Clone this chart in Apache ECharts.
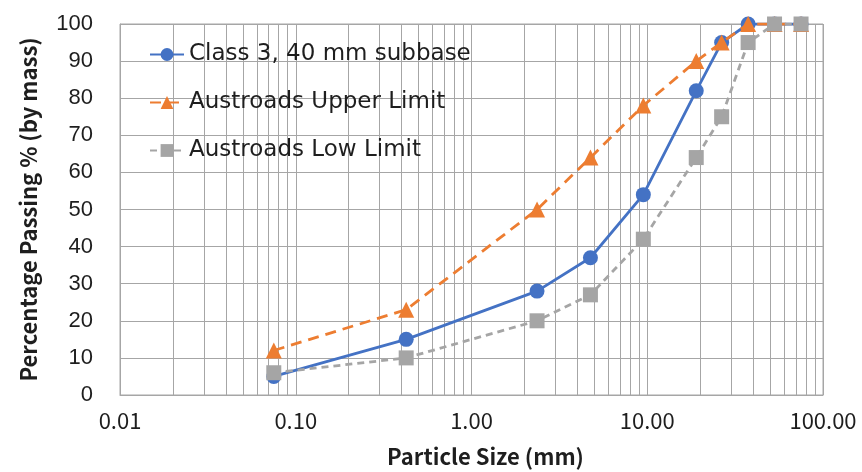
<!DOCTYPE html>
<html>
<head>
<meta charset="utf-8">
<script src="https://cdn.jsdelivr.net/npm/echarts@6/dist/echarts.min.js"></script>
<style>
  html, body { margin: 0; padding: 0; background: #fff; }
  #chart { width: 862px; height: 472px; }
</style>
</head>
<body>
<div id="chart"></div>
<script>
  // sieve sizes (mm) and percent passing
  var sizes = [0.075, 0.425, 2.36, 4.75, 9.5, 19, 26.5, 37.5, 53, 75];
  var class3 = [5, 15, 28, 37, 54, 82, 95, 100, 100, 100];
  var upperLimit = [12, 23, 50, 64, 78, 90, 95, 100, 100, 100];
  var lowLimit = [6, 10, 20, 27, 42, 64, 75, 95, 100, 100];
  var seriesNames = ['Class 3, 40 mm subbase', 'Austroads Upper Limit', 'Austroads Low Limit'];
  // minor log grid lines 2..9 in each decade
  var minorGrid = [0.02, 0.03, 0.04, 0.05, 0.06, 0.07, 0.08, 0.09,
                   0.2, 0.3, 0.4, 0.5, 0.6, 0.7, 0.8, 0.9,
                   2, 3, 4, 5, 6, 7, 8, 9,
                   20, 30, 40, 50, 60, 70, 80, 90];

  var cjk = 'Noto Sans CJK SC';
  var gridColor = '#a6a6a6';
  var textColor = '#1e1e1e';

  function pairs(ys) {
    return sizes.map(function (s, i) { return [s, ys[i]]; });
  }

  var chart = echarts.init(document.getElementById('chart'));
  var option = {
    animation: false,
    textStyle: { fontFamily: cjk },
    grid: {
      left: 120, right: 39, top: 24, bottom: 77,
      outerBoundsMode: 'none',
      show: true, borderColor: gridColor, borderWidth: 1
    },
    legend: {
      orient: 'vertical',
      left: 144,
      top: 38,
      itemGap: 25,
      itemWidth: 34,
      itemHeight: 16,
      textStyle: { fontSize: 23, color: textColor, fontFamily: 'DejaVu Sans' },
      data: seriesNames
    },
    xAxis: {
      type: 'log',
      logBase: 10,
      min: 0.01,
      max: 100,
      name: 'Particle Size (mm)',
      nameLocation: 'middle',
      nameGap: 51,
      nameTextStyle: {
        fontSize: 22, fontWeight: 'bold', color: textColor, fontFamily: cjk,
        padding: [0, 0, 0, 28]
      },
      axisLine: { lineStyle: { color: gridColor } },
      axisTick: { show: false },
      axisLabel: {
        fontSize: 22, color: textColor, margin: 15, fontFamily: cjk,
        formatter: function (v) { return v.toFixed(2); }
      },
      splitLine: { show: true, lineStyle: { color: gridColor, width: 1 } }
    },
    yAxis: {
      type: 'value',
      min: 0,
      max: 100,
      interval: 10,
      name: 'Percentage Passing % (by mass)',
      nameLocation: 'middle',
      nameGap: 80,
      nameTextStyle: { fontSize: 22, fontWeight: 'bold', color: textColor, fontFamily: cjk },
      axisLine: { show: true, lineStyle: { color: gridColor } },
      axisTick: { show: false },
      axisLabel: { fontSize: 22, color: textColor, margin: 27, fontFamily: 'Liberation Sans' },
      splitLine: { show: true, lineStyle: { color: gridColor, width: 1 } }
    },
    series: [
      {
        name: seriesNames[0],
        type: 'line',
        data: pairs(class3),
        symbol: 'circle',
        symbolSize: 15,
        itemStyle: { color: '#4472c4' },
        lineStyle: { color: '#4472c4', width: 2.8 },
        z: 2,
        markLine: {
          silent: true,
          symbol: 'none',
          label: { show: false },
          lineStyle: { color: gridColor, width: 1, type: 'solid' },
          data: minorGrid.map(function (v) { return { xAxis: v }; }),
          z: 0
        }
      },
      {
        name: seriesNames[1],
        type: 'line',
        data: pairs(upperLimit),
        symbol: 'triangle',
        symbolSize: 16,
        itemStyle: { color: '#ed7d31' },
        lineStyle: { color: '#ed7d31', width: 2.8, type: [11, 7] },
        z: 3
      },
      {
        name: seriesNames[2],
        type: 'line',
        data: pairs(lowLimit),
        symbol: 'rect',
        symbolSize: 15,
        itemStyle: { color: '#a5a5a5' },
        lineStyle: { color: '#a5a5a5', width: 2.8, type: [7, 5] },
        z: 4
      }
    ]
  };
  chart.setOption(option);
</script>
</body>
</html>
